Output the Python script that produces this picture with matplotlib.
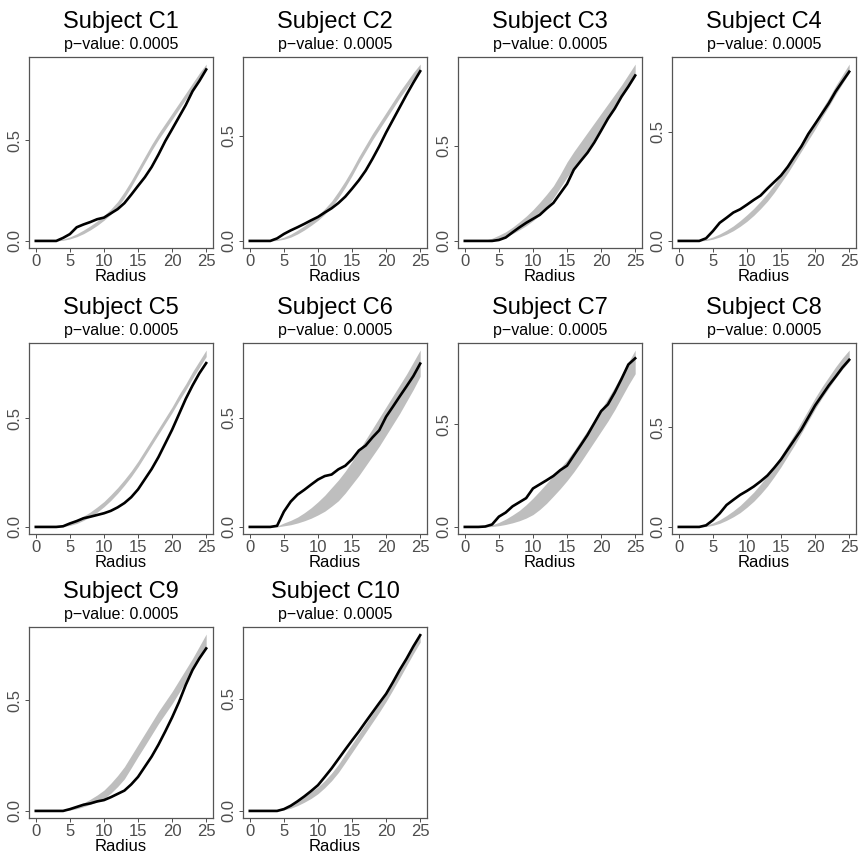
"""Envelope plots of K-function style curves for ten subjects."""

import matplotlib
matplotlib.use("Agg")
import matplotlib.pyplot as plt

plt.rcParams['font.family'] = ['Liberation Sans', 'DejaVu Sans']

radius = list(range(26))
subjects = ["C1", "C2", "C3", "C4", "C5", "C6", "C7", "C8", "C9", "C10"]
p_values = ["0.0005"] * 10

# observed curves (black)
obs_c1 = [0, 0, 0, 0, 0.015, 0.034, 0.068, 0.082, 0.094, 0.108, 0.116, 0.137, 0.158,
          0.188, 0.23, 0.274, 0.317, 0.368, 0.43, 0.497, 0.556, 0.616, 0.676, 0.745, 0.796, 0.853]
obs_c2 = [0, 0, 0, 0, 0.012, 0.033, 0.05, 0.065, 0.081, 0.098, 0.114, 0.135, 0.155,
          0.18, 0.21, 0.248, 0.288, 0.334, 0.39, 0.45, 0.515, 0.575, 0.635, 0.695, 0.752, 0.806]
obs_c3 = [0, 0, 0, 0, 0, 0.005, 0.018, 0.045, 0.071, 0.095, 0.116, 0.137, 0.17,
          0.2, 0.25, 0.3, 0.375, 0.42, 0.464, 0.518, 0.58, 0.643, 0.696, 0.759, 0.812, 0.87]
obs_c4 = [0, 0, 0, 0, 0.012, 0.045, 0.083, 0.106, 0.13, 0.145, 0.166, 0.188, 0.208,
          0.24, 0.27, 0.3, 0.34, 0.388, 0.434, 0.49, 0.536, 0.583, 0.63, 0.684, 0.73, 0.775]
obs_c5 = [0, 0, 0, 0, 0.003, 0.016, 0.027, 0.04, 0.047, 0.055, 0.063, 0.074, 0.09,
          0.11, 0.137, 0.173, 0.22, 0.267, 0.322, 0.385, 0.448, 0.519, 0.59, 0.652, 0.708, 0.755]
obs_c6 = [0, 0, 0, 0, 0.005, 0.07, 0.116, 0.148, 0.17, 0.194, 0.217, 0.233, 0.24,
          0.264, 0.28, 0.31, 0.35, 0.373, 0.41, 0.443, 0.505, 0.551, 0.598, 0.644, 0.691, 0.748]
obs_c7 = [0, 0, 0, 0.002, 0.012, 0.05, 0.07, 0.1, 0.12, 0.14, 0.187, 0.207, 0.227,
          0.248, 0.276, 0.298, 0.348, 0.397, 0.447, 0.505, 0.563, 0.596, 0.654, 0.72, 0.79, 0.82]
obs_c8 = [0, 0, 0, 0, 0.008, 0.034, 0.068, 0.11, 0.136, 0.161, 0.181, 0.203, 0.229,
          0.258, 0.297, 0.339, 0.39, 0.44, 0.49, 0.55, 0.61, 0.66, 0.71, 0.754, 0.8, 0.839]
obs_c9 = [0, 0, 0, 0, 0, 0.008, 0.018, 0.028, 0.034, 0.043, 0.049, 0.062, 0.077,
          0.092, 0.12, 0.154, 0.2, 0.246, 0.3, 0.36, 0.423, 0.492, 0.57, 0.638, 0.69, 0.735]
obs_c10 = [0, 0, 0, 0, 0, 0.008, 0.023, 0.043, 0.065, 0.089, 0.115, 0.152, 0.19,
           0.232, 0.274, 0.315, 0.355, 0.398, 0.44, 0.482, 0.523, 0.575, 0.63, 0.68, 0.735, 0.785]

# simulation envelopes (grey band)
lo_c1 = [0, 0, 0, 0, 0.003, 0.01, 0.021, 0.036, 0.055, 0.077, 0.103, 0.132, 0.168,
         0.215, 0.27, 0.33, 0.39, 0.45, 0.505, 0.555, 0.605, 0.655, 0.705, 0.755, 0.805, 0.85]
hi_c1 = [0, 0, 0, 0.002, 0.009, 0.02, 0.035, 0.054, 0.075, 0.099, 0.127, 0.158, 0.196,
         0.245, 0.3, 0.36, 0.42, 0.48, 0.535, 0.585, 0.635, 0.685, 0.735, 0.785, 0.835, 0.88]
lo_c2 = [0, 0, 0, 0, 0.002, 0.008, 0.018, 0.033, 0.052, 0.074, 0.098, 0.127, 0.161,
         0.205, 0.255, 0.31, 0.37, 0.425, 0.48, 0.53, 0.58, 0.63, 0.68, 0.725, 0.77, 0.81]
hi_c2 = [0, 0, 0, 0.002, 0.008, 0.018, 0.032, 0.051, 0.072, 0.096, 0.122, 0.153, 0.189,
         0.235, 0.285, 0.34, 0.4, 0.455, 0.51, 0.56, 0.61, 0.66, 0.71, 0.755, 0.8, 0.84]
lo_c3 = [0, 0, 0, 0, 0.003, 0.01, 0.022, 0.038, 0.058, 0.08, 0.106, 0.137, 0.175,
         0.225, 0.28, 0.335, 0.385, 0.43, 0.48, 0.535, 0.59, 0.645, 0.7, 0.755, 0.81, 0.862]
hi_c3 = [0, 0, 0, 0.004, 0.014, 0.03, 0.048, 0.072, 0.1, 0.13, 0.164, 0.203, 0.245,
         0.29, 0.35, 0.415, 0.47, 0.52, 0.57, 0.62, 0.67, 0.72, 0.77, 0.82, 0.875, 0.93]
lo_c4 = [0, 0, 0, 0, 0.002, 0.008, 0.018, 0.031, 0.047, 0.067, 0.09, 0.117, 0.148,
         0.182, 0.222, 0.267, 0.312, 0.362, 0.412, 0.462, 0.512, 0.566, 0.616, 0.67, 0.72, 0.77]
hi_c4 = [0, 0, 0, 0.002, 0.008, 0.018, 0.032, 0.049, 0.069, 0.093, 0.12, 0.149, 0.182,
         0.218, 0.258, 0.303, 0.348, 0.398, 0.448, 0.498, 0.548, 0.604, 0.654, 0.71, 0.76, 0.81]
lo_c5 = [0, 0, 0, 0, 0.002, 0.007, 0.016, 0.03, 0.047, 0.068, 0.093, 0.122, 0.155,
         0.192, 0.232, 0.277, 0.327, 0.377, 0.427, 0.477, 0.527, 0.581, 0.631, 0.685, 0.735, 0.785]
hi_c5 = [0, 0, 0, 0.002, 0.006, 0.017, 0.032, 0.05, 0.069, 0.092, 0.117, 0.148, 0.181,
         0.218, 0.258, 0.303, 0.353, 0.403, 0.453, 0.503, 0.553, 0.609, 0.659, 0.715, 0.765, 0.815]
lo_c6 = [0, 0, 0, 0, 0, 0.005, 0.01, 0.018, 0.028, 0.04, 0.055, 0.072, 0.095,
         0.12, 0.155, 0.195, 0.235, 0.28, 0.325, 0.37, 0.42, 0.47, 0.52, 0.575, 0.63, 0.69]
hi_c6 = [0, 0, 0, 0, 0.004, 0.018, 0.03, 0.045, 0.065, 0.088, 0.115, 0.145, 0.18,
         0.215, 0.255, 0.3, 0.35, 0.4, 0.45, 0.5, 0.55, 0.6, 0.65, 0.7, 0.755, 0.81]
lo_c7 = [0, 0, 0, 0, 0.002, 0.006, 0.012, 0.02, 0.03, 0.043, 0.06, 0.085, 0.115,
         0.15, 0.186, 0.225, 0.268, 0.315, 0.365, 0.415, 0.465, 0.515, 0.57, 0.63, 0.69, 0.745]
hi_c7 = [0, 0, 0, 0.002, 0.01, 0.022, 0.038, 0.058, 0.08, 0.108, 0.14, 0.175, 0.212,
         0.25, 0.287, 0.325, 0.37, 0.42, 0.47, 0.52, 0.572, 0.625, 0.68, 0.74, 0.8, 0.86]
lo_c8 = [0, 0, 0, 0, 0.002, 0.008, 0.018, 0.033, 0.051, 0.072, 0.099, 0.129, 0.165,
         0.205, 0.252, 0.302, 0.357, 0.412, 0.472, 0.532, 0.592, 0.647, 0.697, 0.747, 0.792, 0.832]
hi_c8 = [0, 0, 0, 0.002, 0.008, 0.02, 0.036, 0.057, 0.081, 0.108, 0.141, 0.175, 0.215,
         0.259, 0.308, 0.358, 0.413, 0.468, 0.528, 0.588, 0.648, 0.703, 0.753, 0.803, 0.848, 0.888]
lo_c9 = [0, 0, 0, 0, 0.001, 0.004, 0.01, 0.019, 0.03, 0.041, 0.055, 0.08, 0.11,
         0.145, 0.195, 0.246, 0.295, 0.345, 0.395, 0.44, 0.485, 0.535, 0.585, 0.64, 0.69, 0.746]
hi_c9 = [0, 0, 0, 0, 0.004, 0.012, 0.022, 0.036, 0.053, 0.072, 0.094, 0.125, 0.16,
         0.2, 0.25, 0.3, 0.35, 0.4, 0.45, 0.495, 0.54, 0.59, 0.64, 0.69, 0.745, 0.8]
lo_c10 = [0, 0, 0, 0, 0.001, 0.005, 0.012, 0.024, 0.039, 0.056, 0.077, 0.104, 0.135,
          0.172, 0.216, 0.261, 0.306, 0.351, 0.396, 0.441, 0.489, 0.541, 0.594, 0.649, 0.703, 0.754]
hi_c10 = [0, 0, 0, 0.002, 0.006, 0.015, 0.028, 0.046, 0.065, 0.086, 0.107, 0.136, 0.169,
          0.208, 0.254, 0.299, 0.344, 0.389, 0.434, 0.479, 0.527, 0.579, 0.632, 0.687, 0.741, 0.79]

observed = [obs_c1, obs_c2, obs_c3, obs_c4, obs_c5, obs_c6, obs_c7, obs_c8, obs_c9, obs_c10]
lower = [lo_c1, lo_c2, lo_c3, lo_c4, lo_c5, lo_c6, lo_c7, lo_c8, lo_c9, lo_c10]
upper = [hi_c1, hi_c2, hi_c3, hi_c4, hi_c5, hi_c6, hi_c7, hi_c8, hi_c9, hi_c10]

W, H = 858, 856
fig = plt.figure(figsize=(W / 100, H / 100), dpi=100)

col_left = [29, 243, 458, 672]
row_top = [57, 343, 627]
ax_w, ax_h = 184, 191
edge = '#555555'

for i, name in enumerate(subjects):
    r, c = divmod(i, 4)
    left, top = col_left[c], row_top[r]
    ax = fig.add_axes([left / W, 1 - (top + ax_h) / H, ax_w / W, ax_h / H])

    ax.fill_between(radius, lower[i], upper[i], color='#BEBEBE', linewidth=0)
    ax.plot(radius, observed[i], color='black', linewidth=1.9)
    ax.margins(0.04)

    ax.set_xticks([0, 5, 10, 15, 20, 25])
    ax.set_yticks([0, 0.5])
    ax.set_yticklabels(['0.0', '0.5'], rotation=90, va='center')
    ax.tick_params(colors='#4D4D4D', labelsize=12, length=3, width=0.7, pad=1.5)
    for s in ax.spines.values():
        s.set_color(edge)
        s.set_linewidth(0.9)
    ax.set_xlabel('Radius', fontsize=12, labelpad=-0.5)

    cx = (left + ax_w / 2) / W
    fig.text(cx, 1 - (top - 35) / H, 'Subject ' + name, fontsize=17,
             ha='center', va='center')
    fig.text(cx, 1 - (top - 12) / H, 'p\u2212value: ' + p_values[i], fontsize=11.5,
             ha='center', va='center')

fig.savefig('out.png', dpi=100)
